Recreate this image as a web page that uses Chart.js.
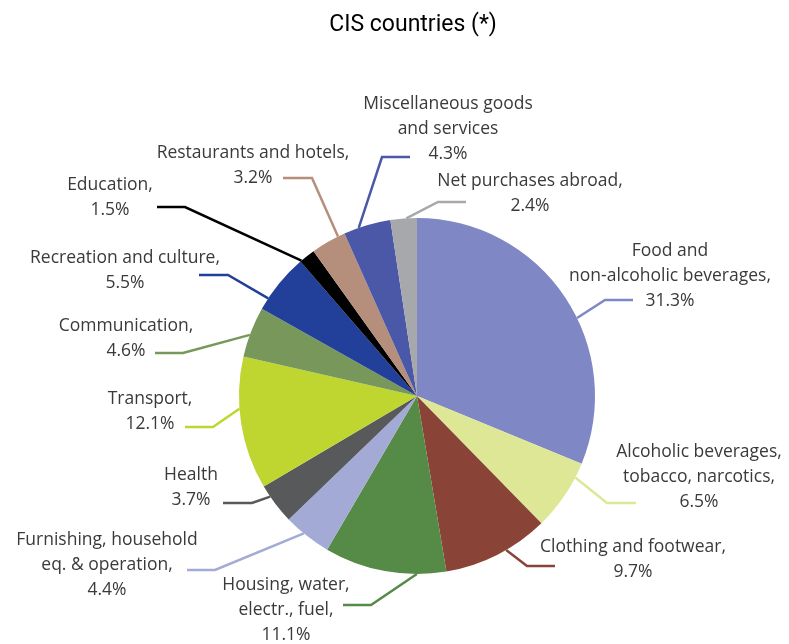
<!DOCTYPE html>
<html>
<head>
<meta charset="utf-8">
<script src="https://cdn.jsdelivr.net/npm/chart.js@4/dist/chart.umd.min.js"></script>
<style>
  html, body { margin: 0; padding: 0; background: #fff; }
  canvas { display: block; }
</style>
</head>
<body>
<canvas id="pie" width="789" height="644"></canvas>
<script>
'use strict';

// Household consumption structure, CIS countries (%)
const categories = [
  ['Food and', 'non-alcoholic beverages,'],
  ['Alcoholic beverages,', 'tobacco, narcotics,'],
  ['Clothing and footwear,'],
  ['Housing, water,', 'electr., fuel,'],
  ['Furnishing, household', 'eq. & operation,'],
  ['Health'],
  ['Transport,'],
  ['Communication,'],
  ['Recreation and culture,'],
  ['Education,'],
  ['Restaurants and hotels,'],
  ['Miscellaneous goods', 'and services'],
  ['Net purchases abroad,']
];
const shares = [31.3, 6.5, 9.7, 11.1, 4.4, 3.7, 12.1, 4.6, 5.5, 1.5, 3.2, 4.3, 2.4];
const sliceColors = [
  '#7f87c4', '#dde795', '#8a4437', '#568a47', '#a3aad6', '#58595b', '#bed62f',
  '#77985a', '#22409a', '#000000', '#b58e7c', '#4b58a8', '#a7a8ab'
];

// label placement: text centre + first line y, leader elbow/end, where the leader meets the arc (0..1 of the slice)
const labelPos = [
  [670, 251], [699, 452], [633, 547], [286, 585], [107, 540], [191, 475], [150, 399],
  [126, 326], [125, 258], [110, 185], [253, 153], [448, 104], [530, 181]
];
const leaderPts = [
  [[605, 300], [633, 300]], [[607, 503], [636, 503]], [[527, 566], [555, 566]],
  [[371, 605], [343, 605]], [[215, 570], [187, 570]], [[252, 503], [223, 503]],
  [[213, 427], [185, 427]], [[183, 353], [155, 353]], [[228, 275], [199, 275]],
  [[185, 207], [157, 207]], [[312, 178], [283, 178]], [[382, 157], [410, 157]],
  [[438, 202], [466, 202]]
];
const leaderAnchor = [0.57, 0.21, 0.41, 0.24, 0.58, 0.71, 0.61, 0.44, 0.2, 0.08, 0.8, 0.32, 0.6];

const FONT = '"Open Sans", "DejaVu Sans", sans-serif';
const LINE_H = 25;

const labelsPlugin = {
  id: 'pieLabels',
  afterDraw(chart) {
    const ctx = chart.ctx;
    const arcs = chart.getDatasetMeta(0).data;
    ctx.save();

    // title
    ctx.fillStyle = '#000';
    ctx.font = '23px Roboto, ' + FONT;
    ctx.textAlign = 'center';
    ctx.textBaseline = 'middle';
    ctx.fillText('CIS countries (*)', 413, 25);

    arcs.forEach((arc, i) => {
      const a = arc.startAngle + leaderAnchor[i] * (arc.endAngle - arc.startAngle);
      const sx = arc.x + arc.outerRadius * Math.cos(a);
      const sy = arc.y + arc.outerRadius * Math.sin(a);
      const [elbow, end] = leaderPts[i];

      ctx.strokeStyle = sliceColors[i];
      ctx.lineWidth = 2.5;
      ctx.lineJoin = 'miter';
      ctx.beginPath();
      ctx.moveTo(sx, sy);
      ctx.lineTo(elbow[0], elbow[1]);
      ctx.lineTo(end[0], end[1]);
      ctx.stroke();

      const lines = categories[i].concat(shares[i].toFixed(1) + '%');
      const [cx, cy] = labelPos[i];
      ctx.fillStyle = '#3a3a3a';
      ctx.font = '17.5px ' + FONT;
      lines.forEach((t, k) => ctx.fillText(t, cx, cy + k * LINE_H));
    });
    ctx.restore();
  }
};

new Chart(document.getElementById('pie'), {
  type: 'pie',
  data: {
    labels: categories.map(c => c.join(' ')),
    datasets: [{
      data: shares,
      backgroundColor: sliceColors,
      borderWidth: 0
    }]
  },
  options: {
    responsive: false,
    animation: false,
    layout: { padding: { left: 239, top: 218, right: 194, bottom: 70 } },
    plugins: {
      legend: { display: false },
      tooltip: { enabled: false }
    }
  },
  plugins: [labelsPlugin]
});
</script>
</body>
</html>
